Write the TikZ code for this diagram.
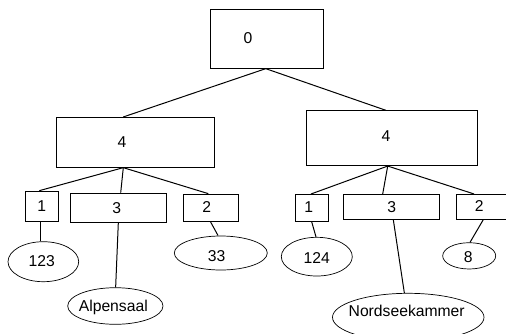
\documentclass[tikz,border=0pt]{standalone}
\usepackage{fontspec}
\setmainfont{Liberation Sans}
\usetikzlibrary{shapes.geometric}
\begin{document}
\begin{tikzpicture}[x=1pt,y=-1pt,
  box/.style={draw, rectangle, inner sep=0pt, line width=0.7pt},
  oval/.style={draw, ellipse, inner sep=0pt, line width=0.7pt},
  lbl/.style={inner sep=0pt, anchor=center, text height=11.2pt, text depth=0pt, font=\fontsize{15.7}{18}\selectfont},
  link/.style={line width=1pt}]
\useasboundingbox (0,0) rectangle (506,333);
\clip (0,0) rectangle (506,333);
% boxes
\node[box, minimum width=112.3pt, minimum height=59pt] (root) at (266.85,38.8) {};
\node[box, minimum width=158pt, minimum height=50pt] (lf) at (135.3,142.3) {};
\node[box, minimum width=171pt, minimum height=55pt] (rt) at (391.8,138.2) {};
\node[box, minimum width=33.7pt, minimum height=30.3pt] (la) at (41.85,206.15) {};
\node[box, minimum width=96.4pt, minimum height=29.7pt] (lb) at (118.5,207.85) {};
\node[box, minimum width=54.3pt, minimum height=27.7pt] (lc) at (210.85,207.85) {};
\node[box, minimum width=32.3pt, minimum height=27pt] (ra) at (311.85,207.8) {};
\node[box, minimum width=95.6pt, minimum height=25pt] (rb) at (391.5,206.8) {};
\node[box, minimum width=54pt, minimum height=25pt] (rc) at (483,206.8) {};
% ellipses
\node[oval, minimum width=70.7pt, minimum height=40pt] (ea) at (43.35,261.7) {};
\node[oval, minimum width=95.3pt, minimum height=36.6pt] (eb) at (115.35,306) {};
\node[oval, minimum width=93pt, minimum height=34pt] (ec) at (220.8,253) {};
\node[oval, minimum width=71pt, minimum height=38.7pt] (ed) at (316.8,256.65) {};
\node[oval, minimum width=151.5pt, minimum height=48pt] (ee) at (408.25,317.3) {};
\node[oval, minimum width=53pt, minimum height=26.3pt] (ef) at (469.2,255.85) {};
% texts
\node[lbl] (t0) at (248,38) {0};
\node[lbl] (t1) at (122,142) {4};
\node[lbl] (t2) at (386,136) {4};
\node[lbl] (t3) at (41.7,205.7) {1};
\node[lbl] (t4) at (116.7,207.7) {3};
\node[lbl] (t5) at (206.7,207) {2};
\node[lbl] (t6) at (308.7,207) {1};
\node[lbl] (t7) at (391.7,207) {3};
\node[lbl] (t8) at (479.3,205.7) {2};
\node[lbl] (t9) at (41.7,261) {123};
\node[lbl] (t10) at (113.3,306) {Alpensaal};
\node[lbl] (t11) at (216.7,255.7) {33};
\node[lbl] (t12) at (316.7,257.7) {124};
\node[lbl] (t13) at (406.7,310.7) {Nordseekammer};
\node[lbl] (t14) at (468.3,257.3) {8};
% connectors
\draw[link] ([xshift=-1.1pt]root.south) -- ([xshift=-12pt]lf.north);
\draw[link] ([xshift=-1.1pt]root.south) -- ([xshift=-5.8pt]rt.north);
\draw[link] ([xshift=-12pt]lf.south) -- ([xshift=-2.5pt]la.north);
\draw[link] ([xshift=-12pt]lf.south) -- ([xshift=2.2pt]lb.north);
\draw[link] ([xshift=-12pt]lf.south) -- ([xshift=-2.5pt]lc.north);
\draw[link] ([xshift=-4.1pt]rt.south) -- ([xshift=-0.8pt]ra.north);
\draw[link] ([xshift=-4.1pt]rt.south) -- ([xshift=-8.8pt]rb.north);
\draw[link] ([xshift=-4.1pt]rt.south) -- ([xshift=-9pt]rc.north);
\draw[link] ([xshift=-1.8pt]la.south) -- ([xshift=-3.3pt]ea.north);
\draw[link] ([xshift=-0.2pt]lb.south) -- ([xshift=0.3pt]eb.north);
\draw[link] ([xshift=-0.2pt]lc.south) -- ([xshift=-2.8pt,yshift=0.2pt]ec.north);
\draw[link] ([xshift=-0.2pt]ra.south) -- ([xshift=-0.8pt]ed.north);
\draw[link] ([xshift=1.8pt]rb.south) -- ([xshift=-3.9pt]ee.north);
\draw[link] ([xshift=0.3pt]rc.south) -- ([xshift=0.8pt]ef.north);
\end{tikzpicture}
\end{document}
